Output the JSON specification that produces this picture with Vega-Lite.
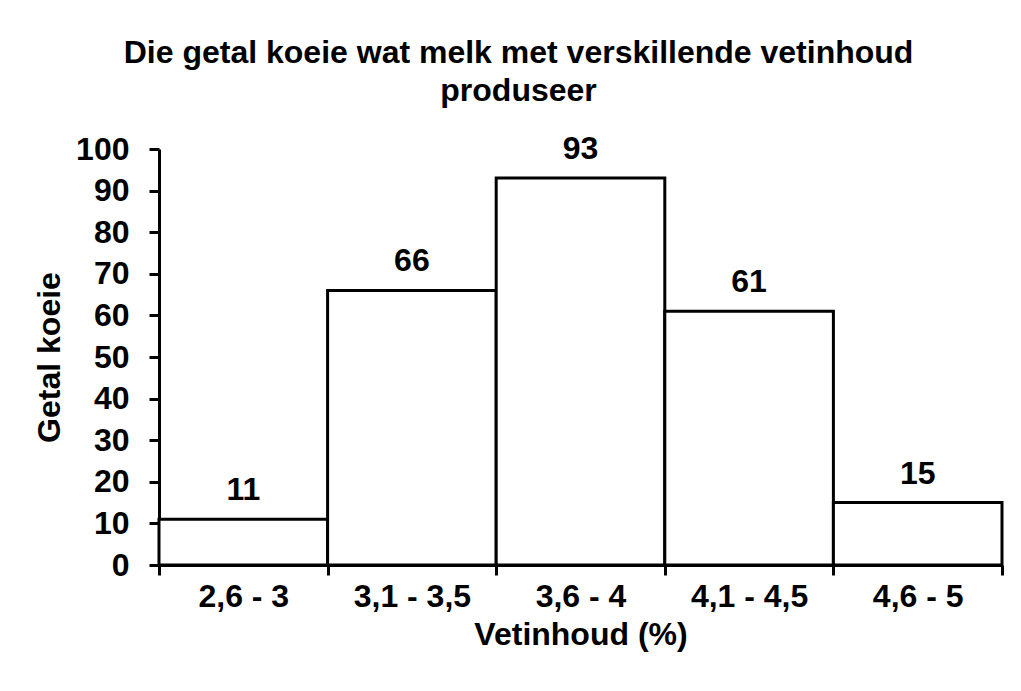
{
  "$schema": "https://vega.github.io/schema/vega-lite/v6.json",
  "autosize": {"type": "none"},
  "width": 843,
  "height": 416,
  "padding": {"left": 159, "top": 149, "right": 19, "bottom": 126},
  "background": "white",
  "config": {
    "font": "Liberation Sans",
    "view": {"stroke": null},
    "axis": {
      "domainColor": "black",
      "domainWidth": 3,
      "tickColor": "black",
      "tickWidth": 3,
      "tickSize": 10,
      "labelColor": "black",
      "labelFont": "Liberation Sans",
      "labelFontWeight": "bold",
      "labelFontSize": 32,
      "titleColor": "black",
      "titleFont": "Liberation Sans",
      "titleFontWeight": "bold",
      "titleFontSize": 32,
      "grid": false
    }
  },
  "title": {
    "text": ["Die getal koeie wat melk met verskillende vetinhoud", "produseer"],
    "font": "Liberation Sans",
    "fontWeight": "bold",
    "fontSize": 32,
    "lineHeight": 38,
    "color": "black",
    "anchor": "middle",
    "frame": "bounds",
    "offset": 25
  },
  "data": {
    "values": [
      {"vetinhoud": "2,6 - 3", "koeie": 11},
      {"vetinhoud": "3,1 - 3,5", "koeie": 66},
      {"vetinhoud": "3,6 - 4", "koeie": 93},
      {"vetinhoud": "4,1 - 4,5", "koeie": 61},
      {"vetinhoud": "4,6 - 5", "koeie": 15}
    ]
  },
  "encoding": {
    "x": {
      "field": "vetinhoud",
      "type": "nominal",
      "sort": null,
      "scale": {"paddingInner": 0, "paddingOuter": 0},
      "axis": {
        "title": "Vetinhoud (%)",
        "labelAngle": 0,
        "labelPadding": 6,
        "tickBand": "extent",
        "titlePadding": 7
      }
    },
    "y": {
      "field": "koeie",
      "type": "quantitative",
      "scale": {"domain": [0, 100], "nice": false},
      "axis": {
        "title": "Getal koeie",
        "values": [0, 10, 20, 30, 40, 50, 60, 70, 80, 90, 100],
        "labelPadding": 20,
        "titlePadding": 9
      }
    }
  },
  "layer": [
    {
      "mark": {"type": "bar", "fill": "white", "stroke": "black", "strokeWidth": 3}
    },
    {
      "mark": {"type": "text", "font": "Liberation Sans", "fontWeight": "bold", "fontSize": 32, "color": "black", "baseline": "alphabetic", "dy": -19},
      "encoding": {"text": {"field": "koeie", "type": "quantitative"}}
    }
  ]
}
